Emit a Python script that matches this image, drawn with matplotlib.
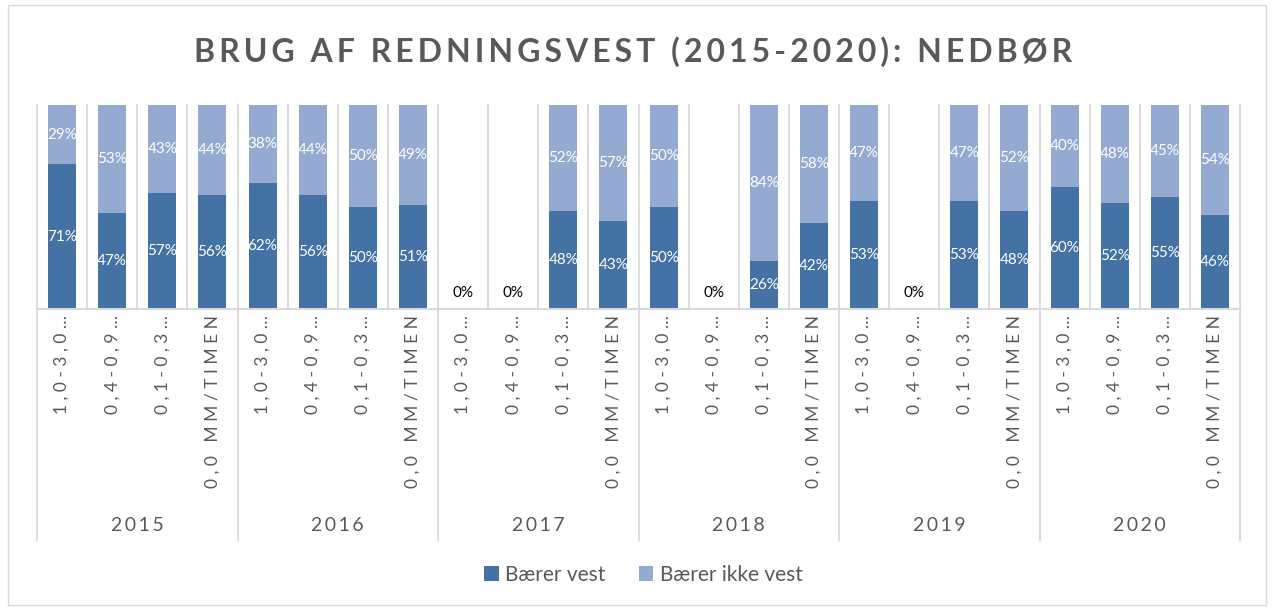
import numpy as np
import matplotlib.pyplot as plt
from matplotlib.patches import Rectangle
import matplotlib.transforms as mtransforms

plt.rcParams["font.family"] = ["Lato", "DejaVu Sans"]

# data
years = ["2015", "2016", "2017", "2018", "2019", "2020"]
categories = ["1,0-3,0…", "0,4-0,9…", "0,1-0,3…", "0,0 MM/TIMEN"]
baerer_vest = [71, 47, 57, 56,
               62, 56, 50, 51,
               0, 0, 48, 43,
               50, 0, 26, 42,
               53, 0, 53, 48,
               60, 52, 55, 46]
baerer_ikke_vest = [29, 53, 43, 44,
                    38, 44, 50, 49,
                    0, 0, 52, 57,
                    50, 0, 84, 58,
                    47, 0, 47, 52,
                    40, 48, 45, 54]

DARK = "#4472a4"
LIGHT = "#95aad0"
GRID = "#d9d9d9"
TXT = "#595959"


def spaced(s, sep="\u200a"):
    return sep.join(s)


def make_chart():
    v = np.array(baerer_vest, float)
    ik = np.array(baerer_ikke_vest, float)
    tot = v + ik
    share_v = np.where(tot > 0, v / np.where(tot > 0, tot, 1), 0)
    share_i = np.where(tot > 0, ik / np.where(tot > 0, tot, 1), 0)
    n = len(v)
    x = np.arange(n)

    fig = plt.figure(figsize=(12.74, 6.09), dpi=100)
    fig.patches.append(Rectangle((8 / 1274, 4 / 609), 1258 / 1274, 600 / 609,
                                 transform=fig.transFigure, fill=False,
                                 edgecolor=GRID, lw=1))
    ax = fig.add_axes([37 / 1274, 1 - 309 / 609, 1203 / 1274, 204 / 609])

    ax.bar(x, share_v, width=0.56, color=DARK, label="Bærer vest", zorder=3)
    ax.bar(x, share_i, bottom=share_v, width=0.56, color=LIGHT,
           label="Bærer ikke vest", zorder=3)
    ax.set_xlim(-0.5, n - 0.5)
    ax.set_ylim(0, 1)
    ax.axis("off")

    trans = mtransforms.blended_transform_factory(ax.transData, ax.transAxes)
    # gitterlinjer mellem kategorier
    for k in range(n + 1):
        bottom = -1.13 if k % 4 == 0 else 0
        ax.plot([k - 0.5, k - 0.5], [bottom, 1], color=GRID, lw=1.3,
                transform=trans, clip_on=False, zorder=1)
    ax.plot([-0.5, n - 0.5], [0, 0], color=GRID, lw=1.5, transform=trans,
            clip_on=False, zorder=4)

    # data labels
    for i in range(n):
        if tot[i] > 0:
            ax.text(i, share_v[i] / 2, f"{int(v[i])}%", color="white",
                    ha="center", va="center", fontsize=11, zorder=5)
            ax.text(i, share_v[i] + share_i[i] / 2, f"{int(ik[i])}%",
                    color="white", ha="center", va="center", fontsize=11,
                    zorder=5)
        else:
            ax.text(i, 0.08, "0%", color="black", ha="center", va="center",
                    fontsize=11, zorder=5)

    # kategori- og årstal
    for i in range(n):
        ax.text(i, -0.03, spaced(categories[i % 4], " "), rotation=90,
                ha="center", va="top", color=TXT, fontsize=12.5,
                transform=trans)
    for g, yr in enumerate(years):
        ax.text(g * 4 + 1.5, -1.06, spaced(yr, "\u2009"), ha="center",
                va="center", color=TXT, fontsize=14, transform=trans)

    fig.text(0.497, 0.915, spaced("BRUG AF REDNINGSVEST (2015-2020): NEDBØR", "\u2009"),
             ha="center", va="center", fontsize=23, fontweight="bold", color=TXT)

    fig.legend(loc="center", bbox_to_anchor=(0.505, 0.056), ncol=2,
               frameon=False, fontsize=15, labelcolor=TXT, handlelength=0.7,
               handleheight=0.7, handletextpad=0.3, columnspacing=1.6)

    fig.savefig("out.png", dpi=100)


if __name__ == "__main__":
    make_chart()
